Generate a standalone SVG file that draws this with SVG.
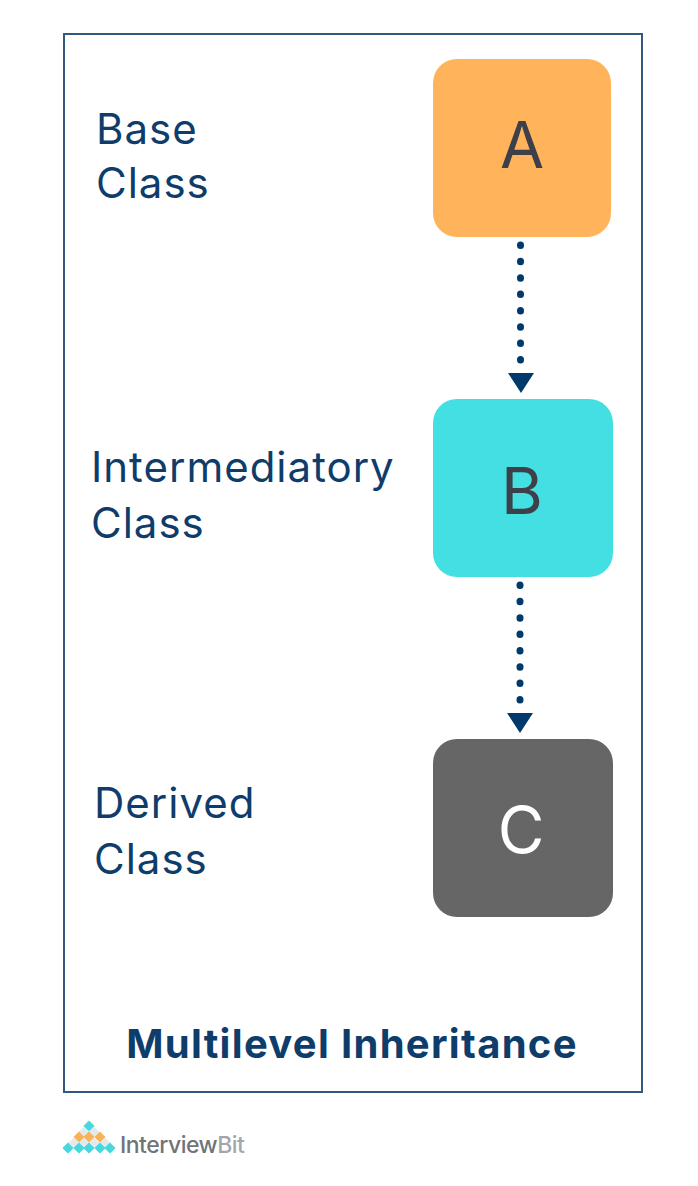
<svg xmlns="http://www.w3.org/2000/svg" width="698" height="1186" viewBox="0 0 698 1186">
<style>
.lbl{font-family:Inter,"Noto Sans",sans-serif;font-size:42px;letter-spacing:1px;fill:#0f3d6b}
.letter{font-family:Inter,"Noto Sans",sans-serif;font-size:64px;text-anchor:middle;fill:#3d4048}
.dots{stroke:#003a6c;stroke-width:7;stroke-linecap:round;stroke-dasharray:0.5 15.85;fill:none}
.head{fill:#003a6c}
.t{fill:#46d8de}.o{fill:#fbb256}.w{fill:#e6e9eb}
</style>
<defs><path id="d" d="M0-5.6Q0-5.6 5.6 0 0 5.6 0 5.6-5.6 0-5.6 0Z"/></defs>
<rect width="698" height="1186" fill="#fff"/>
<rect id="frame" x="64" y="34" width="578" height="1058" fill="#fff" stroke="#33587f" stroke-width="2"/>
<g id="connectors">
<path class="dots" d="M520.5 245V362"/>
<path class="head" d="M508 373H534L521 393Z"/>
<path class="dots" d="M520 585V702"/>
<path class="head" d="M507 713H533L520 733Z"/>
</g>
<g id="node-a"><rect x="433" y="59" width="178" height="178" rx="24" fill="#ffb45c"/><text class="letter" x="522" y="168">A</text></g>
<g id="node-b"><rect x="433" y="399" width="180" height="178" rx="24" fill="#43dfe2"/><text class="letter" x="522" y="514">B</text></g>
<g id="node-c"><rect x="433" y="739" width="180" height="178" rx="24" fill="#666666"/><text class="letter" x="521" y="853" style="fill:#fff">C</text></g>
<g id="label-base"><text class="lbl" x="96" y="144">Base</text><text class="lbl" x="96" y="198">Class</text></g>
<g id="label-intermediatory"><text class="lbl" x="91" y="482">Intermediatory</text><text class="lbl" x="91" y="538">Class</text></g>
<g id="label-derived"><text class="lbl" x="94" y="818">Derived</text><text class="lbl" x="94" y="874">Class</text></g>
<g id="title"><text x="352" y="1058" text-anchor="middle" style="font-family:Inter,'Noto Sans',sans-serif;font-size:40px;font-weight:700;letter-spacing:1.3px;fill:#0f3d6b">Multilevel Inheritance</text></g>
<g id="logo">
<use href="#d" class="t" x="89" y="1126"/>
<use href="#d" class="w" x="84" y="1132"/><use href="#d" class="w" x="94" y="1132"/>
<use href="#d" class="o" x="79" y="1137"/><use href="#d" class="o" x="89" y="1137"/><use href="#d" class="o" x="100" y="1137"/>
<use href="#d" class="w" x="74" y="1143"/><use href="#d" class="w" x="84" y="1143"/><use href="#d" class="w" x="94" y="1143"/><use href="#d" class="w" x="105" y="1143"/>
<use href="#d" class="t" x="68" y="1148"/><use href="#d" class="t" x="79" y="1148"/><use href="#d" class="t" x="89" y="1148"/><use href="#d" class="t" x="100" y="1148"/><use href="#d" class="t" x="110" y="1148"/>
<text x="120" y="1153" style="font-family:Inter,'Noto Sans',sans-serif;font-size:23px;font-weight:500;letter-spacing:-0.5px;fill:#6f7479">Interview<tspan style="fill:#a3a7ab">Bit</tspan></text>
</g>
</svg>
